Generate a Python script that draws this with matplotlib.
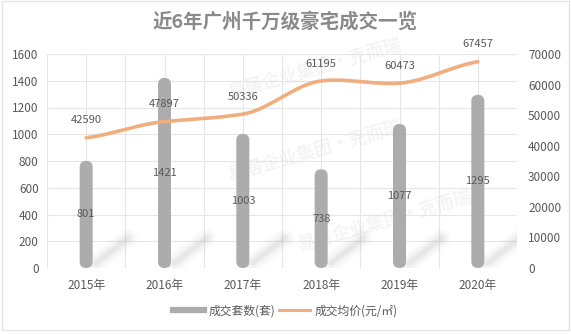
import numpy as np
import matplotlib
matplotlib.use("Agg")
import matplotlib.pyplot as plt
from matplotlib.patches import FancyBboxPatch, Rectangle
from matplotlib.lines import Line2D

plt.rcParams['font.family'] = ['Noto Sans CJK SC', 'DejaVu Sans']

years = ["2015年", "2016年", "2017年", "2018年", "2019年", "2020年"]
deals = [801, 1421, 1003, 738, 1077, 1295]
avg_price = [42590, 47897, 50336, 61195, 60473, 67457]
left_ticks = list(range(0, 1601, 200))
right_ticks = list(range(0, 70001, 10000))

bar_color = "#acacac"
line_color = "#f0ae7e"
text_color = "#595959"
grid_color = "#e6e6e6"

W, H = 571, 334
fig = plt.figure(figsize=(W / 100, H / 100), dpi=100)
fig.patch.set_facecolor("white")
fig.add_artist(Rectangle((0.004, 0.012), 0.992, 0.985, transform=fig.transFigure,
                         fill=False, edgecolor="#e4e4e4", lw=1.0))

ax = fig.add_axes([47 / W, 1 - 268 / H, 470 / W, 214 / H])
ax2 = ax.twinx()

n = len(years)
x = np.arange(n)
ax.set_xlim(-0.5, n - 0.5)
ax.set_ylim(0, 1600)
ax2.set_ylim(0, 70000)

# grid: horizontal at left ticks, vertical at centres and boundaries
for t in left_ticks:
    ax.axhline(t, color=grid_color, lw=0.8, zorder=0)
for v in np.arange(-0.5, n, 0.5):
    ax.axvline(v, color=grid_color, lw=0.8, zorder=0)

for s in ax.spines.values():
    s.set_visible(False)
for s in ax2.spines.values():
    s.set_visible(False)

ax.set_xticks(x)
ax.set_xticklabels(years)
ax.set_yticks(left_ticks)
ax2.set_yticks(right_ticks)
ax.tick_params(axis="both", length=0, labelsize=8.5, colors=text_color, pad=6)
ax.tick_params(axis="x", pad=8)
ax2.tick_params(axis="y", length=0, labelsize=8.5, colors=text_color, pad=8)

# watermark
for (wx, wy) in [(0.57, 0.93), (0.57, 0.55), (0.72, 0.22)]:
    ax.text(wx, wy, "易居企业集团·克而瑞", transform=ax.transAxes, rotation=16,
            ha="center", va="center", fontsize=13, color="#dcdcdc", alpha=0.3,
            fontweight="bold", zorder=1)

# rounded bars, sized in pixels
fig.canvas.draw()
px_x = 1.0 / (ax.transData.transform((1, 0))[0] - ax.transData.transform((0, 0))[0])
px_y = 1600.0 / (ax.transData.transform((0, 1600))[1] - ax.transData.transform((0, 0))[1])
bw = 13 * px_x
r = bw / 2
aspect = px_y / px_x
for xi, v in zip(x, deals):
    # soft diagonal shadow at the foot of each bar
    for lw, a in [(14, 0.025), (11, 0.03), (8, 0.04), (5, 0.05), (3, 0.06)]:
        ax.plot([xi + 10 * px_x, xi + 42 * px_x], [5 * px_y, 30 * px_y],
                color="#8a8a8a", lw=lw, alpha=a, solid_capstyle="round", zorder=2)
    p = FancyBboxPatch((xi - bw / 2, 0), bw, v,
                       boxstyle=f"round,pad=0,rounding_size={r}",
                       mutation_aspect=aspect, facecolor=bar_color,
                       edgecolor="none", zorder=3)
    ax.add_patch(p)
    ax.text(xi, v / 2, str(v), ha="center", va="center", fontsize=8,
            color=text_color, zorder=6)

# smooth price line (cubic Hermite through the points)
xs, ys = x.astype(float), np.array(avg_price, dtype=float)
m = np.zeros_like(ys)
m[1:-1] = (ys[2:] - ys[:-2]) / 2
m[0] = ys[1] - ys[0]
m[-1] = ys[-1] - ys[-2]
sx, sy = [], []
for i in range(n - 1):
    t = np.linspace(0, 1, 40)
    h00 = 2 * t**3 - 3 * t**2 + 1
    h10 = t**3 - 2 * t**2 + t
    h01 = -2 * t**3 + 3 * t**2
    h11 = t**3 - t**2
    sy.extend(h00 * ys[i] + h10 * m[i] * 0.6 + h01 * ys[i + 1] + h11 * m[i + 1] * 0.6)
    sx.extend(xs[i] + t)
ax2.plot(sx, sy, color=line_color, lw=2.6, zorder=5, solid_capstyle="round")
for xi, v in zip(x, avg_price):
    ax2.annotate(str(v), (xi, v), xytext=(0, 12.5), textcoords="offset points",
                 ha="center", va="center", fontsize=8, color=text_color)

ax2.set_zorder(2)
ax.set_zorder(1)
ax.patch.set_visible(False)
ax2.patch.set_visible(False)

fig.text(0.5, 1 - 22 / H, "近6年广州千万级豪宅成交一览", ha="center", va="center",
         fontsize=14, fontweight="bold", color="#8a8a8a")

handles = [Line2D([0], [0], color=bar_color, lw=4.5),
           Line2D([0], [0], color=line_color, lw=2.2)]
fig.legend(handles, ["成交套数(套)", "成交均价(元/㎡)"], loc="center",
           bbox_to_anchor=(0.5, 1 - 311 / H), ncol=2, frameon=False,
           fontsize=8.5, labelcolor=text_color, handlelength=2.6,
           handletextpad=0.4, columnspacing=0.3)

fig.savefig("out.png", dpi=100, facecolor="white")
